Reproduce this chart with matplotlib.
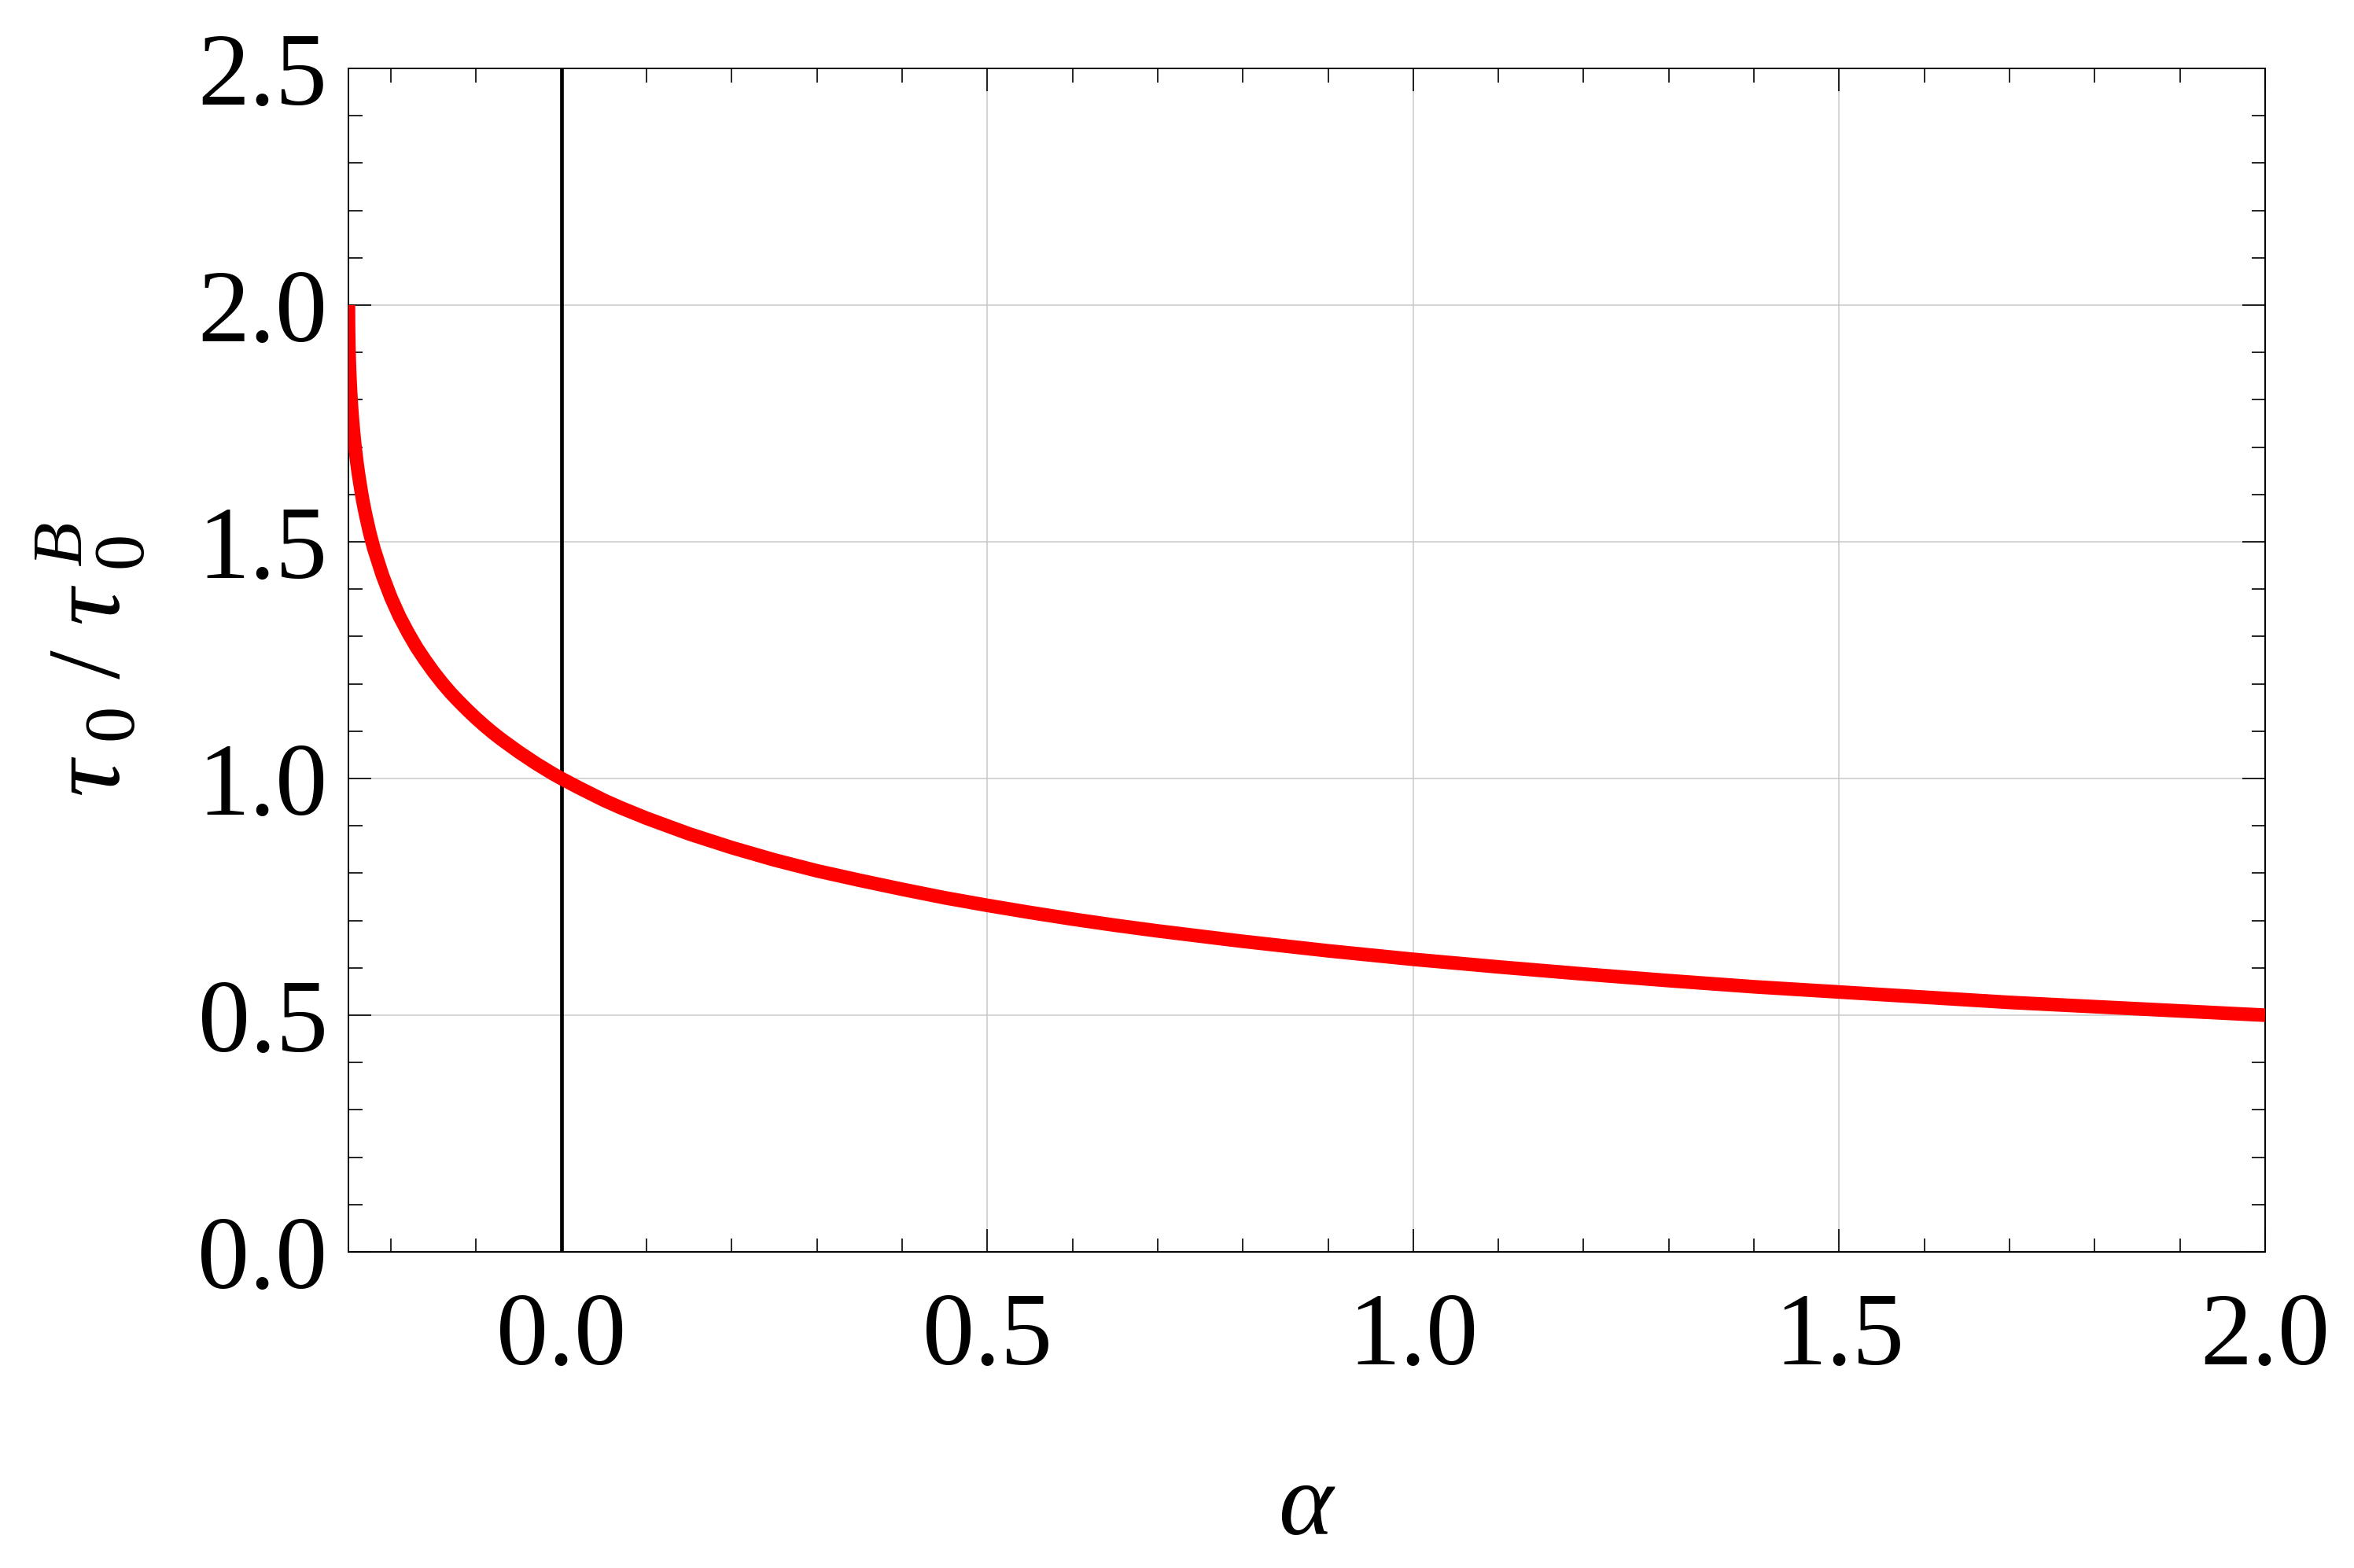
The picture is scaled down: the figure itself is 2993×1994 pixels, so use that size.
import numpy as np
import matplotlib
matplotlib.use("Agg")
import matplotlib.pyplot as plt
from matplotlib.ticker import FixedLocator, MultipleLocator, FormatStrFormatter

plt.rcParams['font.family'] = ['Liberation Serif', 'DejaVu Serif']
plt.rcParams['mathtext.fontset'] = 'custom'
plt.rcParams['mathtext.rm'] = 'Liberation Serif'
plt.rcParams['mathtext.it'] = 'Liberation Serif:italic'

# values
alpha = [-0.25, -0.2499, -0.2498, -0.2495, -0.249, -0.2485, -0.248, -0.2475,
         -0.247, -0.2465, -0.246, -0.245, -0.244, -0.243, -0.242, -0.24,
         -0.238, -0.235, -0.233, -0.23, -0.227, -0.225, -0.22, -0.21, -0.20,
         -0.19, -0.18, -0.17, -0.16, -0.15, -0.14, -0.13, -0.12, -0.11, -0.10,
         -0.09, -0.08, -0.07, -0.06, -0.05, -0.04, -0.03, -0.02, -0.01, 0.0,
         0.02, 0.03, 0.05, 0.07, 0.1, 0.15, 0.2, 0.25, 0.3, 0.35, 0.4, 0.45,
         0.5, 0.55, 0.6, 0.65, 0.7, 0.75, 0.8, 0.85, 0.9, 0.95, 1.0, 1.1,
         1.2, 1.3, 1.4, 1.5, 1.6, 1.7, 1.8, 1.9, 2.0]
ratio = [2.0, 1.961, 1.945, 1.914, 1.881, 1.856, 1.836, 1.818,
         1.803, 1.788, 1.775, 1.752, 1.732, 1.713, 1.697, 1.667,
         1.641, 1.607, 1.586, 1.559, 1.535, 1.519, 1.485, 1.429, 1.382,
         1.342, 1.308, 1.277, 1.250, 1.225, 1.202, 1.181, 1.162, 1.144, 1.127,
         1.111, 1.096, 1.082, 1.069, 1.056, 1.044, 1.032, 1.021, 1.010, 1.0,
         0.981, 0.972, 0.954, 0.938, 0.916, 0.883, 0.854, 0.828, 0.805, 0.785, 0.766, 0.748,
         0.732, 0.717, 0.703, 0.690, 0.678, 0.667, 0.656, 0.646, 0.636, 0.627, 0.618, 0.602,
         0.587, 0.573, 0.560, 0.549, 0.538, 0.527, 0.518, 0.509, 0.5]

x_major = [0.0, 0.5, 1.0, 1.5, 2.0]
y_major = [0.0, 0.5, 1.0, 1.5, 2.0, 2.5]

fig = plt.figure(figsize=(29.93, 19.94), dpi=100)
ax = fig.add_axes([0.14801, 0.20161, 0.81423, 0.75476])

for g in x_major[1:-1]:
    ax.axvline(g, color='#c9c9c9', lw=1.1, zorder=1)
for g in y_major[1:-1]:
    ax.axhline(g, color='#c9c9c9', lw=1.1, zorder=1)
ax.axvline(0.0, color='black', lw=3.4, zorder=2)

ax.plot(alpha, ratio, color='#ff0000', lw=12.5, solid_capstyle='butt',
        solid_joinstyle='round', zorder=3)

ax.set_xlim(-0.25, 2.0)
ax.set_ylim(0.0, 2.5)

ax.xaxis.set_major_locator(FixedLocator(x_major))
ax.yaxis.set_major_locator(FixedLocator(y_major))
ax.xaxis.set_minor_locator(MultipleLocator(0.1))
ax.yaxis.set_minor_locator(MultipleLocator(0.1))
ax.xaxis.set_major_formatter(FormatStrFormatter('%.1f'))
ax.yaxis.set_major_formatter(FormatStrFormatter('%.1f'))

ax.tick_params(which='both', direction='in', top=True, right=True, width=1.2,
               labelsize=95)
ax.tick_params(which='major', length=21)
ax.tick_params(which='minor', length=12.6)
ax.tick_params(axis='x', pad=37)
ax.tick_params(axis='y', pad=19)
for s in ax.spines.values():
    s.set_linewidth(1.4)

ax.set_xlabel(r'$\alpha$', fontsize=95)
ax.xaxis.set_label_coords(0.5, -0.178)
ax.set_ylabel(r'$\tau_{\ 0}\ /\ \tau_{\ 0}^{\ B}$', fontsize=95)
ax.yaxis.set_label_coords(-0.105, 0.5)

fig.savefig('out.png', dpi=100)
